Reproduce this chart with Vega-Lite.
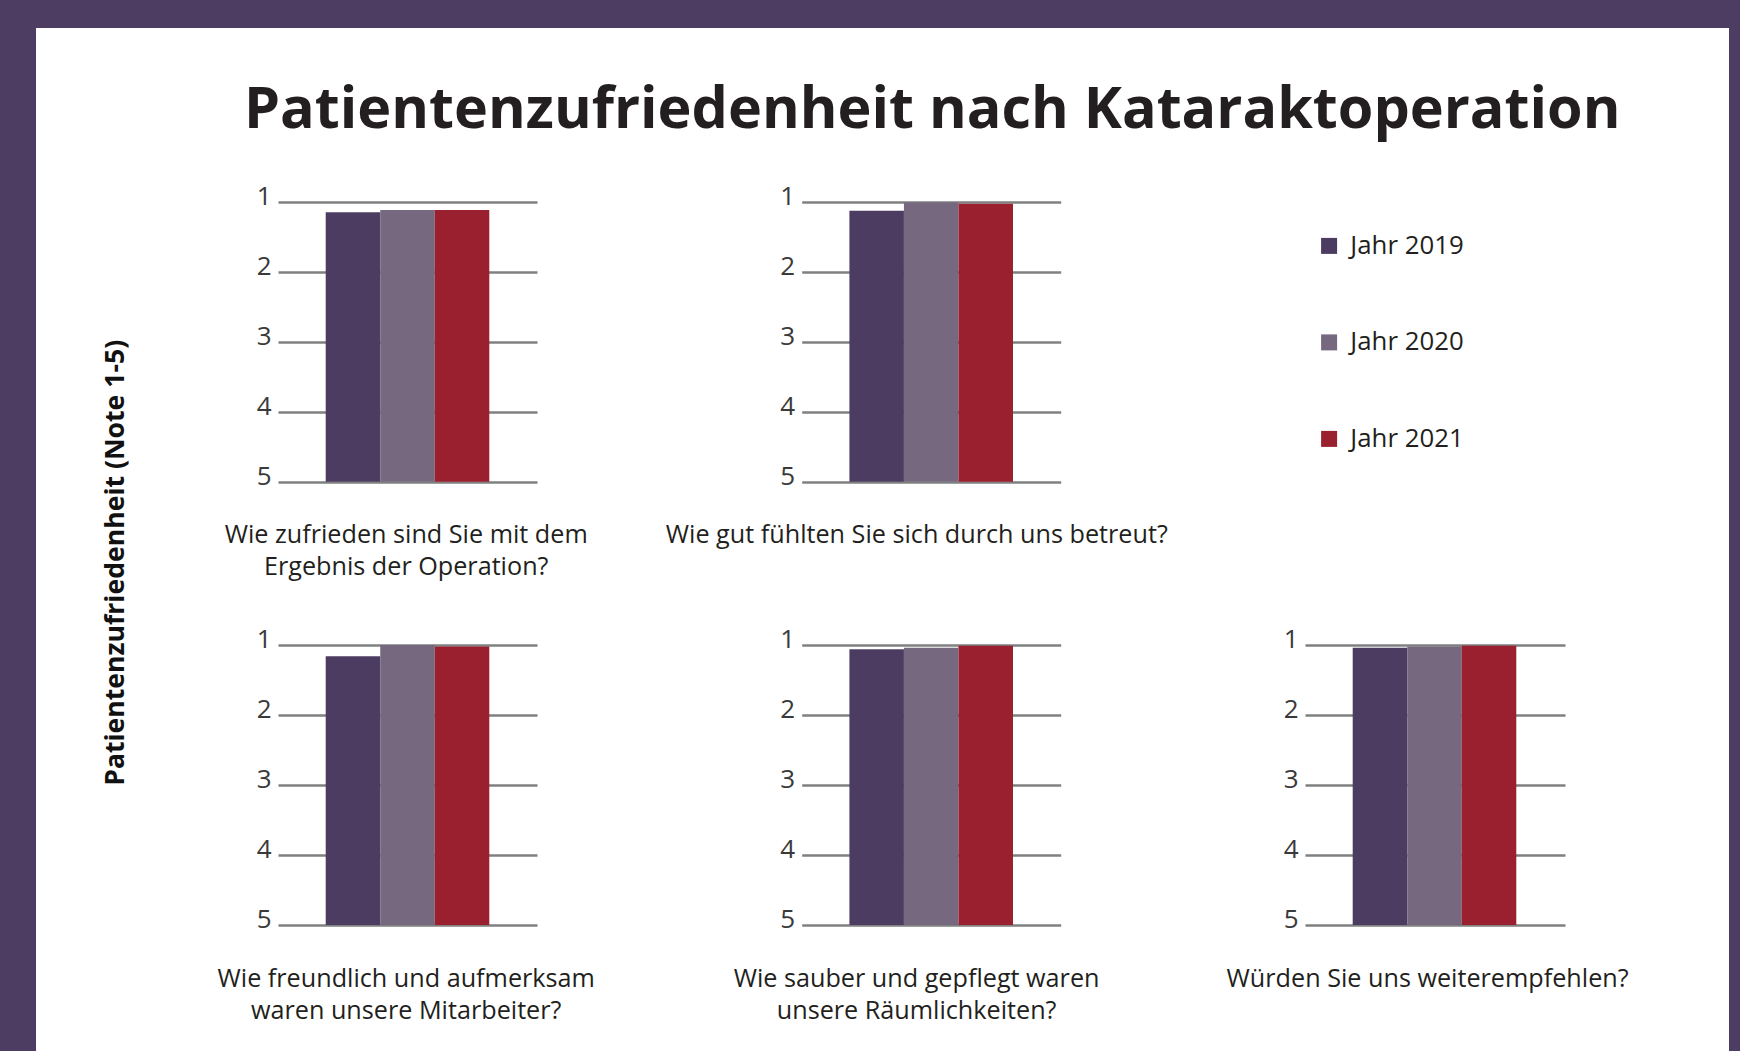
{
  "$schema": "https://vega.github.io/schema/vega-lite/v6.json",
  "background": "#4e3d62",
  "padding": {"left": 36, "top": 28, "right": 11, "bottom": 0},
  "autosize": {"type": "pad"},
  "config": {
    "font": "Open Sans",
    "view": {"stroke": null, "fill": "white"},
    "axis": {"domain": false, "ticks": false, "tickSize": 0, "grid": false}
  },
  "title": {"text": "Patientenzufriedenheit nach Kataraktoperation", "anchor": "start", "offset": -157, "baseline": "alphabetic", "dx": 208, "font": "Open Sans", "fontSize": 57.5, "fontWeight": "bold", "color": "#231f20"},
  "data": {
    "values": [
      {"nr": 1, "frage": "Wie zufrieden sind Sie mit dem\nErgebnis der Operation?", "jahr": "Jahr 2019", "note": 1.15},
      {"nr": 1, "frage": "Wie zufrieden sind Sie mit dem\nErgebnis der Operation?", "jahr": "Jahr 2020", "note": 1.12},
      {"nr": 1, "frage": "Wie zufrieden sind Sie mit dem\nErgebnis der Operation?", "jahr": "Jahr 2021", "note": 1.12},
      {"nr": 2, "frage": "Wie gut fühlten Sie sich durch uns betreut?", "jahr": "Jahr 2019", "note": 1.13},
      {"nr": 2, "frage": "Wie gut fühlten Sie sich durch uns betreut?", "jahr": "Jahr 2020", "note": 1.01},
      {"nr": 2, "frage": "Wie gut fühlten Sie sich durch uns betreut?", "jahr": "Jahr 2021", "note": 1.03},
      {"nr": 3, "frage": "Wie freundlich und aufmerksam\nwaren unsere Mitarbeiter?", "jahr": "Jahr 2019", "note": 1.16},
      {"nr": 3, "frage": "Wie freundlich und aufmerksam\nwaren unsere Mitarbeiter?", "jahr": "Jahr 2020", "note": 1.0},
      {"nr": 3, "frage": "Wie freundlich und aufmerksam\nwaren unsere Mitarbeiter?", "jahr": "Jahr 2021", "note": 1.02},
      {"nr": 4, "frage": "Wie sauber und gepflegt waren\nunsere Räumlichkeiten?", "jahr": "Jahr 2019", "note": 1.06},
      {"nr": 4, "frage": "Wie sauber und gepflegt waren\nunsere Räumlichkeiten?", "jahr": "Jahr 2020", "note": 1.04},
      {"nr": 4, "frage": "Wie sauber und gepflegt waren\nunsere Räumlichkeiten?", "jahr": "Jahr 2021", "note": 1.01},
      {"nr": 5, "frage": "Würden Sie uns weiterempfehlen?", "jahr": "Jahr 2019", "note": 1.04},
      {"nr": 5, "frage": "Würden Sie uns weiterempfehlen?", "jahr": "Jahr 2020", "note": 1.02},
      {"nr": 5, "frage": "Würden Sie uns weiterempfehlen?", "jahr": "Jahr 2021", "note": 1.01}
    ]
  },
  "bounds": "flush",
  "columns": 3,
  "spacing": 0,
  "concat": [
    {
      "width": 594, "height": 572,
      "view": {"fill": "white", "stroke": null},
      "transform": [{"filter": {"field": "nr", "equal": 1}}],
      "mark": "bar",
      "encoding": {
        "x": {"field": "frage", "type": "nominal", "scale": {"paddingInner": 0, "paddingOuter": 0.64672, "align": 0.72239, "round": false}, "axis": {"title": null, "offset": -118.3, "labelAngle": 0, "labelFont": "Open Sans", "labelFontSize": 25.2, "labelColor": "#231f20", "labelPadding": 61, "labelBaseline": "alphabetic", "labelLineHeight": 32, "labelLimit": 0, "labelExpr": "split(datum.label, '\\n')", "labelOffset": -1.3}},
        "xOffset": {"field": "jahr", "type": "nominal", "scale": {"paddingInner": 0, "paddingOuter": 0.875, "round": false}},
        "y": {"field": "note", "type": "quantitative", "scale": {"domain": [-1.48143, 6.69], "reverse": true, "nice": false, "zero": false}, "axis": {"values": [1, 2, 3, 4, 5], "format": "d", "offset": -242, "ticks": true, "tickSize": -259, "tickWidth": 2.5, "tickColor": "#7f8181", "tickCap": "butt", "labelFont": "Open Sans", "labelFontSize": 26, "labelColor": "#3a3a3a", "labelPadding": 266, "labelBaseline": "alphabetic", "labelOffset": 2.5, "labelFlush": false, "title": null}},
        "y2": {"datum": 5},
        "color": {"field": "jahr", "type": "nominal", "scale": {"domain": ["Jahr 2019", "Jahr 2020", "Jahr 2021"], "range": ["#4c3c61", "#76687f", "#9a1f2f"]}, "legend": {"title": null, "orient": "none", "legendX": 1280.2, "legendY": 205, "direction": "vertical", "symbolType": "square", "symbolSize": 256, "symbolStrokeWidth": 0, "symbolOpacity": 1, "labelFont": "Open Sans", "labelFontSize": 25.8, "labelColor": "#231f20", "labelOffset": 8.3, "rowPadding": 69.5}}
      }
    },
    {
      "width": 570, "height": 572,
      "view": {"fill": "white", "stroke": null},
      "transform": [{"filter": {"field": "nr", "equal": 2}}],
      "mark": "bar",
      "encoding": {
        "x": {"field": "frage", "type": "nominal", "scale": {"paddingInner": 0, "paddingOuter": 0.60039, "align": 0.55209, "round": false}, "axis": {"title": null, "offset": -118.3, "labelAngle": 0, "labelFont": "Open Sans", "labelFontSize": 25.2, "labelColor": "#231f20", "labelPadding": 61, "labelBaseline": "alphabetic", "labelLineHeight": 32, "labelLimit": 0, "labelExpr": "split(datum.label, '\\n')", "labelOffset": -14.4}},
        "xOffset": {"field": "jahr", "type": "nominal", "scale": {"paddingInner": 0, "paddingOuter": 0.875, "round": false}},
        "y": {"field": "note", "type": "quantitative", "scale": {"domain": [-1.48143, 6.69], "reverse": true, "nice": false, "zero": false}, "axis": {"values": [1, 2, 3, 4, 5], "format": "d", "offset": -171.7, "ticks": true, "tickSize": -259, "tickWidth": 2.5, "tickColor": "#7f8181", "tickCap": "butt", "labelFont": "Open Sans", "labelFontSize": 26, "labelColor": "#3a3a3a", "labelPadding": 266, "labelBaseline": "alphabetic", "labelOffset": 2.5, "labelFlush": false, "title": null}},
        "y2": {"datum": 5},
        "color": {"field": "jahr", "type": "nominal", "scale": {"domain": ["Jahr 2019", "Jahr 2020", "Jahr 2021"], "range": ["#4c3c61", "#76687f", "#9a1f2f"]}, "legend": {"title": null, "orient": "none", "legendX": 1280.2, "legendY": 205, "direction": "vertical", "symbolType": "square", "symbolSize": 256, "symbolStrokeWidth": 0, "symbolOpacity": 1, "labelFont": "Open Sans", "labelFontSize": 25.8, "labelColor": "#231f20", "labelOffset": 8.3, "rowPadding": 69.5}}
      }
    },
    {
      "width": 529, "height": 572,
      "view": {"fill": "white", "stroke": null},
      "transform": [{"filter": {"field": "nr", "equal": 5}}],
      "mark": {"type": "bar", "opacity": 0},
      "encoding": {
        "x": {"field": "jahr", "type": "nominal", "axis": null},
        "y": {"field": "note", "type": "quantitative", "axis": null}
      }
    },
    {
      "width": 594, "height": 451,
      "view": {"fill": "white", "stroke": null},
      "transform": [{"filter": {"field": "nr", "equal": 3}}],
      "mark": "bar",
      "encoding": {
        "x": {"field": "frage", "type": "nominal", "scale": {"paddingInner": 0, "paddingOuter": 0.64672, "align": 0.72239, "round": false}, "axis": {"title": null, "offset": -126, "labelAngle": 0, "labelFont": "Open Sans", "labelFontSize": 25.2, "labelColor": "#231f20", "labelPadding": 61, "labelBaseline": "alphabetic", "labelLineHeight": 32, "labelLimit": 0, "labelExpr": "split(datum.label, '\\n')", "labelOffset": -1.3}},
        "xOffset": {"field": "jahr", "type": "nominal", "scale": {"paddingInner": 0, "paddingOuter": 0.875, "round": false}},
        "y": {"field": "note", "type": "quantitative", "scale": {"domain": [0.357143, 6.8], "reverse": true, "nice": false, "zero": false}, "axis": {"values": [1, 2, 3, 4, 5], "format": "d", "offset": -242, "ticks": true, "tickSize": -259, "tickWidth": 2.5, "tickColor": "#7f8181", "tickCap": "butt", "labelFont": "Open Sans", "labelFontSize": 26, "labelColor": "#3a3a3a", "labelPadding": 266, "labelBaseline": "alphabetic", "labelOffset": 2.5, "labelFlush": false, "title": "Patientenzufriedenheit (Note 1-5)", "titleX": -162.6, "titleY": -37.7, "titleAngle": -90, "titleBaseline": "middle", "titleAlign": "center", "titleFont": "Open Sans", "titleFontSize": 26.6, "titleFontWeight": "bold", "titleColor": "#111111"}},
        "y2": {"datum": 5},
        "color": {"field": "jahr", "type": "nominal", "scale": {"domain": ["Jahr 2019", "Jahr 2020", "Jahr 2021"], "range": ["#4c3c61", "#76687f", "#9a1f2f"]}, "legend": {"title": null, "orient": "none", "legendX": 1280.2, "legendY": 205, "direction": "vertical", "symbolType": "square", "symbolSize": 256, "symbolStrokeWidth": 0, "symbolOpacity": 1, "labelFont": "Open Sans", "labelFontSize": 25.8, "labelColor": "#231f20", "labelOffset": 8.3, "rowPadding": 69.5}}
      }
    },
    {
      "width": 570, "height": 451,
      "view": {"fill": "white", "stroke": null},
      "transform": [{"filter": {"field": "nr", "equal": 4}}],
      "mark": "bar",
      "encoding": {
        "x": {"field": "frage", "type": "nominal", "scale": {"paddingInner": 0, "paddingOuter": 0.60039, "align": 0.55209, "round": false}, "axis": {"title": null, "offset": -126, "labelAngle": 0, "labelFont": "Open Sans", "labelFontSize": 25.2, "labelColor": "#231f20", "labelPadding": 61, "labelBaseline": "alphabetic", "labelLineHeight": 32, "labelLimit": 0, "labelExpr": "split(datum.label, '\\n')", "labelOffset": -14.6}},
        "xOffset": {"field": "jahr", "type": "nominal", "scale": {"paddingInner": 0, "paddingOuter": 0.875, "round": false}},
        "y": {"field": "note", "type": "quantitative", "scale": {"domain": [0.357143, 6.8], "reverse": true, "nice": false, "zero": false}, "axis": {"values": [1, 2, 3, 4, 5], "format": "d", "offset": -171.7, "ticks": true, "tickSize": -259, "tickWidth": 2.5, "tickColor": "#7f8181", "tickCap": "butt", "labelFont": "Open Sans", "labelFontSize": 26, "labelColor": "#3a3a3a", "labelPadding": 266, "labelBaseline": "alphabetic", "labelOffset": 2.5, "labelFlush": false, "title": null}},
        "y2": {"datum": 5},
        "color": {"field": "jahr", "type": "nominal", "scale": {"domain": ["Jahr 2019", "Jahr 2020", "Jahr 2021"], "range": ["#4c3c61", "#76687f", "#9a1f2f"]}, "legend": {"title": null, "orient": "none", "legendX": 1280.2, "legendY": 205, "direction": "vertical", "symbolType": "square", "symbolSize": 256, "symbolStrokeWidth": 0, "symbolOpacity": 1, "labelFont": "Open Sans", "labelFontSize": 25.8, "labelColor": "#231f20", "labelOffset": 8.3, "rowPadding": 69.5}}
      }
    },
    {
      "width": 529, "height": 451,
      "view": {"fill": "white", "stroke": null},
      "transform": [{"filter": {"field": "nr", "equal": 5}}],
      "mark": "bar",
      "encoding": {
        "x": {"field": "frage", "type": "nominal", "scale": {"paddingInner": 0, "paddingOuter": 0.517308, "align": 0.390335, "round": false}, "axis": {"title": null, "offset": -126, "labelAngle": 0, "labelFont": "Open Sans", "labelFontSize": 25.2, "labelColor": "#231f20", "labelPadding": 61, "labelBaseline": "alphabetic", "labelLineHeight": 32, "labelLimit": 0, "labelExpr": "split(datum.label, '\\n')", "labelOffset": -7.4}},
        "xOffset": {"field": "jahr", "type": "nominal", "scale": {"paddingInner": 0, "paddingOuter": 0.875, "round": false}},
        "y": {"field": "note", "type": "quantitative", "scale": {"domain": [0.357143, 6.8], "reverse": true, "nice": false, "zero": false}, "axis": {"values": [1, 2, 3, 4, 5], "format": "d", "offset": -105, "ticks": true, "tickSize": -260, "tickWidth": 2.5, "tickColor": "#7f8181", "tickCap": "butt", "labelFont": "Open Sans", "labelFontSize": 26, "labelColor": "#3a3a3a", "labelPadding": 267, "labelBaseline": "alphabetic", "labelOffset": 2.5, "labelFlush": false, "title": null}},
        "y2": {"datum": 5},
        "color": {"field": "jahr", "type": "nominal", "scale": {"domain": ["Jahr 2019", "Jahr 2020", "Jahr 2021"], "range": ["#4c3c61", "#76687f", "#9a1f2f"]}, "legend": {"title": null, "orient": "none", "legendX": 1280.2, "legendY": 205, "direction": "vertical", "symbolType": "square", "symbolSize": 256, "symbolStrokeWidth": 0, "symbolOpacity": 1, "labelFont": "Open Sans", "labelFontSize": 25.8, "labelColor": "#231f20", "labelOffset": 8.3, "rowPadding": 69.5}}
      }
    }
  ]
}
